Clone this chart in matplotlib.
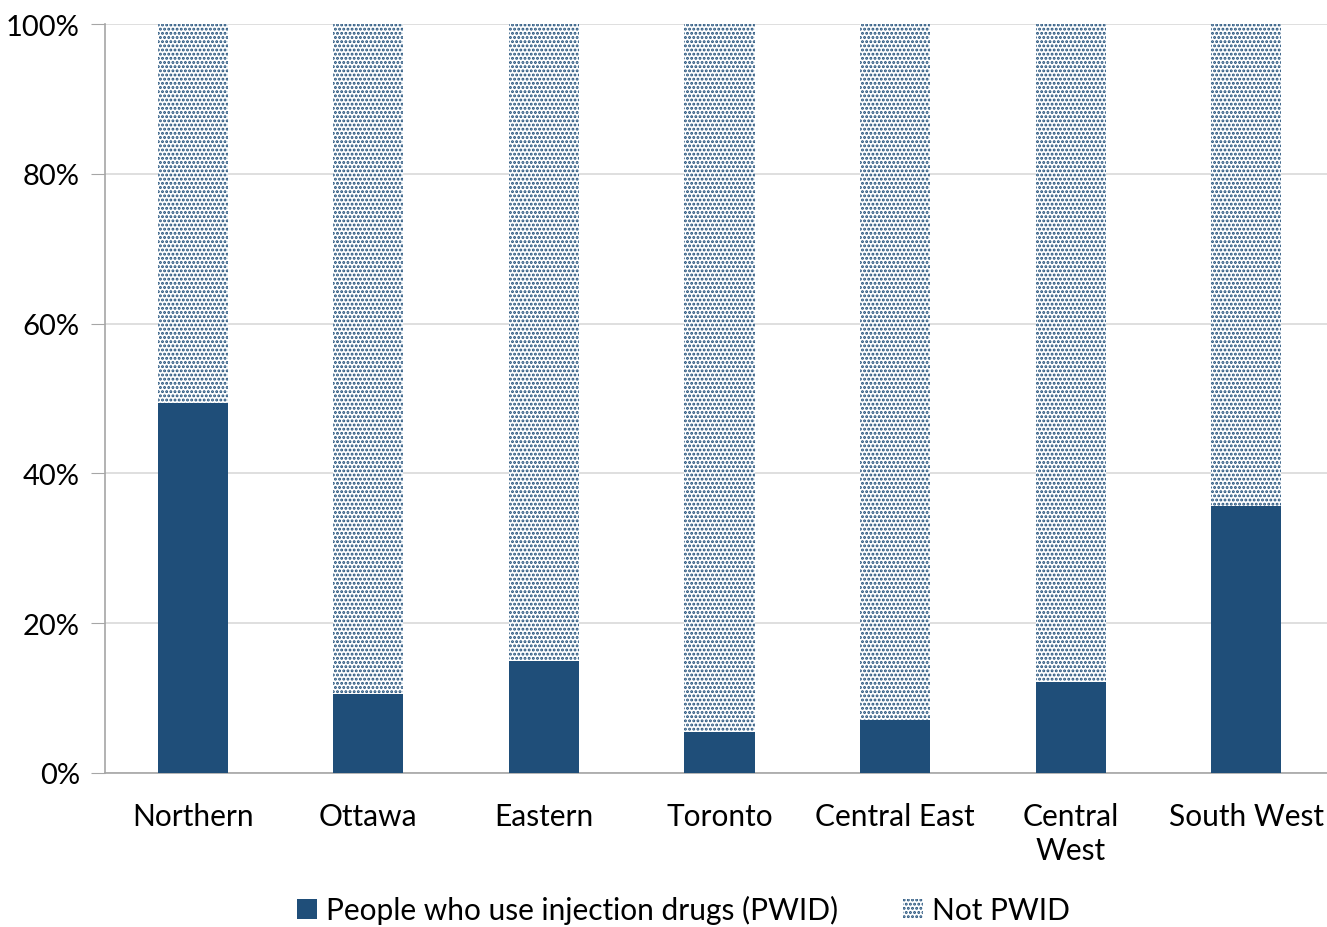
import matplotlib
matplotlib.use("Agg")
import matplotlib.pyplot as plt
from matplotlib.ticker import PercentFormatter
import numpy as np

categories = ["Northern", "Ottawa", "Eastern", "Toronto", "Central East", "Central\nWest", "South West"]
pwid = [49.4, 10.5, 15.0, 5.5, 7.1, 12.1, 35.6]
not_pwid = [100 - v for v in pwid]
series_names = ["People who use injection drugs (PWID)", "Not PWID"]

navy = "#1F4E79"
plt.rcParams['font.family'] = ['Lato', 'DejaVu Sans']
plt.rcParams['hatch.color'] = navy
plt.rcParams['hatch.linewidth'] = 1.4

fig = plt.figure(figsize=(13.27, 9.28), dpi=100)
ax = fig.add_axes([105/1327, 1 - 774/928, 1 - 105/1327, (774 - 25)/928])

x = np.arange(len(categories))
ax.bar(x, pwid, width=0.4, color=navy, label=series_names[0], zorder=3)
ax.bar(x, not_pwid, width=0.4, bottom=pwid, facecolor="white", edgecolor=navy,
       linewidth=0, hatch="....", label=series_names[1], zorder=3)

ax.set_xlim(-0.5, 6.46)
ax.set_ylim(0, 100)
ax.set_yticks(range(0, 101, 20))
ax.yaxis.set_major_formatter(PercentFormatter(decimals=0))
ax.grid(axis='y', color="#D9D9D9", linewidth=1.2, zorder=0)
ax.set_axisbelow(True)
for s in ["top", "right"]:
    ax.spines[s].set_visible(False)
ax.spines["left"].set_color("#A6A6A6")
ax.spines["bottom"].set_color("#A6A6A6")
ax.spines["left"].set_linewidth(1.2)
ax.spines["bottom"].set_linewidth(1.2)
ax.tick_params(axis='y', length=10, color="#A6A6A6", labelsize=21, pad=8)
ax.tick_params(axis='x', length=0, labelsize=21.5, pad=21)
ax.set_xticks(x)
ax.set_xticklabels(categories, linespacing=1.25)

fig.legend(loc="lower center", bbox_to_anchor=(0.515, -0.026), ncol=2, frameon=False,
           fontsize=21.5, handlelength=0.65, handleheight=0.65, handletextpad=0.3, columnspacing=2.2)

fig.savefig("out.png", dpi=100)
